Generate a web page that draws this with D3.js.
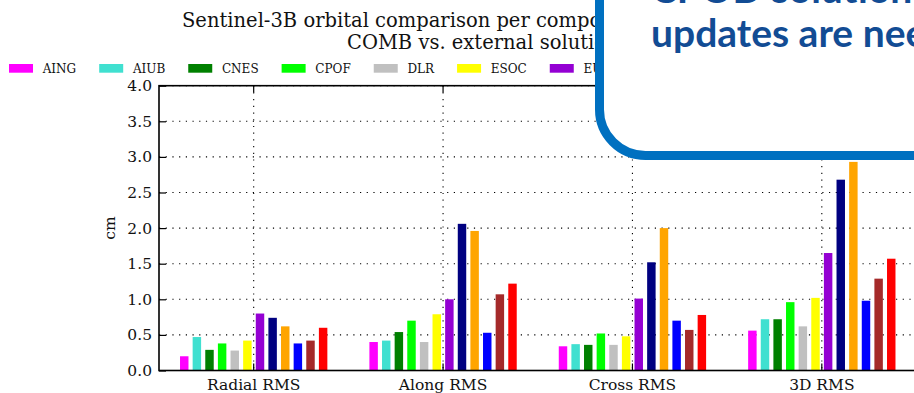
<!DOCTYPE html>
<html>
<head>
<meta charset="utf-8">
<script src="https://cdn.jsdelivr.net/npm/d3@7"></script>
<style>
  body { margin: 0; background: #fff; }
  svg { display: block; font-family: "DejaVu Serif", serif; }
</style>
</head>
<body>
<svg id="chart" width="914" height="393"></svg>
<script>
// components on the x axis
var categories = ["Radial RMS", "Along RMS", "Cross RMS", "3D RMS"];

// analysis centres (legend order) and their colours
var centres = ["AING", "AIUB", "CNES", "CPOF", "DLR", "ESOC", "EUM", "GFZ", "GMV", "TUD", "TUM", "UCL"];
var colors = ["#ff00ff", "#40e0d0", "#008000", "#00ff00", "#c0c0c0", "#ffff00",
              "#9400d3", "#000080", "#ffa500", "#0000ff", "#a52a2a", "#ff0000"];

// values in cm, one array per component (same order as centres)
var radialRms = [0.20, 0.47, 0.29, 0.38, 0.28, 0.42, 0.80, 0.74, 0.62, 0.38, 0.42, 0.60];
var alongRms  = [0.40, 0.42, 0.54, 0.70, 0.40, 0.79, 1.00, 2.06, 1.96, 0.53, 1.07, 1.22];
var crossRms  = [0.34, 0.37, 0.36, 0.52, 0.36, 0.48, 1.01, 1.52, 2.00, 0.70, 0.57, 0.78];
var rms3d     = [0.56, 0.72, 0.72, 0.96, 0.62, 1.02, 1.65, 2.68, 2.93, 0.98, 1.29, 1.57];

var yTicks = [0, 0.5, 1.0, 1.5, 2.0, 2.5, 3.0, 3.5, 4.0];

var titleLines = ["Sentinel-3B orbital comparison per component", "COMB vs. external solutions"];
var calloutLines = ["CPOD solution", "updates are needed"];

var series = [radialRms, alongRms, crossRms, rms3d];

function drawChart() {
    var svg = d3.select("#chart");
    svg.append("rect").attr("width", 914).attr("height", 393).attr("fill", "#fff");

    // plot box in pixels (right edge falls just outside the picture)
    var pLeft = 159, pRight = 916.5, pTop = 85.7, pBottom = 370.5;
    var ink = "#111";

    var x = d3.scaleBand().domain(categories).range([pLeft, pRight]).padding(0);
    var inner = d3.scaleBand().domain(centres)
        .range([0, x.bandwidth() * 0.8])
        .paddingInner(0.33).paddingOuter(0.165);
    var y = d3.scaleLinear().domain([0, 4]).range([pBottom, pTop]);

    // dotted grid, behind the bars
    var grid = svg.append("g")
        .attr("stroke", "#000").attr("stroke-width", 1.1)
        .attr("stroke-dasharray", "1.2,5.5");
    grid.selectAll(".h").data(yTicks.slice(1)).enter().append("line")
        .attr("x1", pLeft).attr("x2", pRight)
        .attr("y1", d => y(d)).attr("y2", d => y(d));
    grid.selectAll(".v").data(categories).enter().append("line")
        .attr("x1", d => x(d) + x.bandwidth() / 2).attr("x2", d => x(d) + x.bandwidth() / 2)
        .attr("y1", pTop).attr("y2", pBottom);

    // bars
    var rows = [];
    categories.forEach(function (c, i) {
        centres.forEach(function (n, j) {
            rows.push({cat: c, centre: n, value: series[i][j], color: colors[j]});
        });
    });
    svg.append("g").selectAll("rect").data(rows).enter().append("rect")
        .attr("x", d => x(d.cat) + x.bandwidth() * 0.1 + inner(d.centre))
        .attr("width", inner.bandwidth())
        .attr("y", d => y(d.value))
        .attr("height", d => pBottom - y(d.value))
        .attr("fill", d => d.color);

    // axes
    var yAxis = svg.append("g").attr("transform", "translate(" + pLeft + ",0)")
        .call(d3.axisLeft(y).tickValues(yTicks).tickFormat(d3.format(".1f"))
            .tickSizeInner(-7).tickSizeOuter(0).tickPadding(7));
    yAxis.select(".domain").remove();
    yAxis.selectAll("line").attr("stroke", "#000").attr("stroke-width", 1.2);
    yAxis.selectAll("text").attr("font-size", 15.5).attr("font-family", "DejaVu Serif").attr("fill", ink);

    var xAxis = svg.append("g").attr("transform", "translate(0," + pBottom + ")")
        .call(d3.axisBottom(x).tickSizeInner(-7).tickSizeOuter(0));
    xAxis.select(".domain").remove();
    xAxis.selectAll("line").attr("stroke", "#000").attr("stroke-width", 1.2);
    xAxis.selectAll("text").attr("dy", null).attr("y", 19.5)
        .attr("font-size", 15.5).attr("font-family", "DejaVu Serif").attr("fill", ink);

    // top ticks
    svg.append("g").selectAll("line").data(categories).enter().append("line")
        .attr("x1", d => x(d) + x.bandwidth() / 2).attr("x2", d => x(d) + x.bandwidth() / 2)
        .attr("y1", pTop).attr("y2", pTop + 7)
        .attr("stroke", "#000").attr("stroke-width", 1.2);

    // frame
    svg.append("rect").attr("x", pLeft).attr("y", pTop)
        .attr("width", pRight - pLeft).attr("height", pBottom - pTop)
        .attr("fill", "none").attr("stroke", "#000").attr("stroke-width", 1.6);

    svg.append("text")
        .attr("transform", "translate(110," + ((pTop + pBottom) / 2) + ") rotate(-90)")
        .attr("text-anchor", "middle").attr("dy", "0.35em")
        .attr("font-size", 15.5).attr("fill", ink).text("cm");

    // title
    svg.append("text").attr("x", 182).attr("y", 27).attr("font-size", 19.5).attr("fill", ink).text(titleLines[0]);
    svg.append("text").attr("x", 347).attr("y", 49).attr("font-size", 19.5).attr("fill", ink).text(titleLines[1]);

    // legend, one row, column width follows the label
    var lx = 9;
    var legend = svg.append("g");
    centres.forEach(function (n, j) {
        legend.append("rect").attr("x", lx).attr("y", 64).attr("width", 24).attr("height", 8.7)
            .attr("fill", colors[j]);
        var t = legend.append("text").attr("x", lx + 33.7).attr("y", 73.3)
            .attr("font-size", 12).attr("fill", ink).text(n);
        lx = lx + 33.7 + t.node().getComputedTextLength() + 23;
    });

    // callout box from the slide on top of the chart
    svg.append("rect").attr("x", 599.5).attr("y", -60).attr("width", 400).attr("height", 215.5)
        .attr("rx", 46).attr("fill", "#fff").attr("stroke", "#0070c0").attr("stroke-width", 9);
    svg.append("g").attr("font-family", "Lato").attr("font-weight", 700).attr("font-size", 39).attr("fill", "#124c94")
        .selectAll("text").data(calloutLines).enter().append("text")
        .attr("x", 651).attr("y", (d, i) => 3 + i * 44)
        .text(d => d);
}

drawChart();
</script>
</body>
</html>
